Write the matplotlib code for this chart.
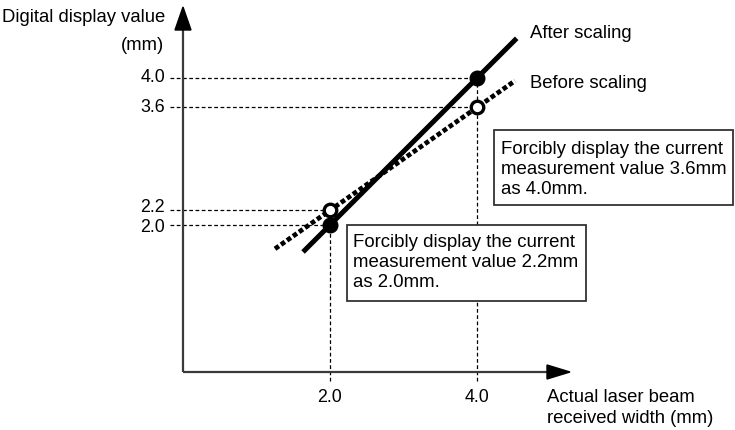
import numpy as np
import matplotlib
matplotlib.use("Agg")
import matplotlib.pyplot as plt
from matplotlib.patches import Polygon, Rectangle
from matplotlib.transforms import offset_copy

plt.rcParams['font.family'] = ['Liberation Sans', 'DejaVu Sans']

# ---- data ----
ref_x = [2.0, 4.0]              # actual received width (mm)
before_y = [2.2, 3.6]           # display value before scaling
after_y = [2.0, 4.0]            # display value after scaling
x_ticks = [2.0, 4.0]
x_tick_labels = ["2.0", "4.0"]
y_ticks = [2.0, 2.2, 3.6, 4.0]
y_tick_labels = ["2.0", "2.2", "3.6", "4.0"]
after_extent = [1.633, 4.54]    # drawn x-range of the "After scaling" line
before_extent = [1.252, 4.517]  # drawn x-range of the "Before scaling" line

# ---- layout (pixel-based geometry) ----
W, H = 735, 430
X0, Y0, S = 183.0, 372.0, 73.5  # origin pixel and pixels per unit
FS = 13.3
FS_BOX = 13.4
FS_TICK = 12.8

fig = plt.figure(figsize=(W / 100, H / 100), dpi=100)
ax = fig.add_axes([0, 0, 1, 1])
ax.set_xlim(-X0 / S, (W - X0) / S)
ax.set_ylim((Y0 - H) / S, Y0 / S)
ax.axis('off')

def px(x):
    return (x - X0) / S

def py(y):
    return (Y0 - y) / S

axis_col = '#3a3a3a'
# axes lines with arrowheads
ax.plot([0, 0], [0, py(30)], color=axis_col, lw=1.6, solid_capstyle='butt', zorder=2)
ax.add_patch(Polygon([[0, py(7)], [-8 / S, py(30)], [8 / S, py(30)]], closed=True,
                     color='black', zorder=3))
ax.plot([0, px(548)], [0, 0], color=axis_col, lw=1.6, solid_capstyle='butt', zorder=2)
ax.add_patch(Polygon([[px(570), 0], [px(547), 7 / S], [px(547), -7 / S]], closed=True,
                     color='black', zorder=3))

# reference dashed lines
dash = dict(color='black', lw=0.9, linestyle=(0, (3, 2)), zorder=1)
for yv, xv in zip(after_y + before_y, ref_x + ref_x):
    ax.plot([px(170), xv], [yv, yv], **dash)
for xv, yv in zip(ref_x, after_y):
    ax.plot([xv, xv], [py(381), yv], **dash)

# lines through the two points of each series
def line_through(xs, ys, ext):
    e = np.array(ext)
    return e, ys[0] + (e - xs[0]) * (ys[1] - ys[0]) / (xs[1] - xs[0])

ax_x, ax_y = line_through(ref_x, after_y, after_extent)
ax.plot(ax_x, ax_y, color='black', lw=3.6, solid_capstyle='butt', zorder=4)
bx_x, bx_y = line_through(ref_x, before_y, before_extent)
ax.plot(bx_x, bx_y, color='black', lw=3.4, linestyle=(0, (1.0, 0.55)),
        dash_capstyle='butt', zorder=4)

ax.plot(ref_x, after_y, 'o', color='black', ms=10.5, zorder=6)
ax.plot(ref_x, before_y, 'o', mfc='white', mec='black', mew=2.4, ms=9, zorder=6)

# tick labels (small vertical nudges keep the close 2.0 / 2.2 labels apart)
nudges = {"2.0": -2.5, "2.2": 3.0, "3.6": 0.0, "4.0": 0.0}
for yv, lab in zip(y_ticks, y_tick_labels):
    tr = offset_copy(ax.transData, fig=fig, x=0, y=nudges[lab], units='dots')
    ax.text(px(165), yv, lab, ha='right', va='center', fontsize=FS_TICK, transform=tr)
for xv, lab in zip(x_ticks, x_tick_labels):
    ax.text(xv, py(397), lab, ha='center', va='center', fontsize=FS_TICK)

# axis titles
ax.text(px(165), py(18), "Digital display value", ha='right', va='center', fontsize=FS)
ax.text(px(164), py(45), "(mm)", ha='right', va='center', fontsize=FS)
ax.text(px(547), py(408), "Actual laser beam\nreceived width (mm)", ha='left',
        va='center', fontsize=FS, linespacing=1.25)

# series labels
ax.text(px(530), py(33), "After scaling", ha='left', va='center', fontsize=FS)
ax.text(px(530), py(83), "Before scaling", ha='left', va='center', fontsize=FS)

# annotation boxes
def box(l, t, r, b):
    ax.add_patch(Rectangle((px(l), py(b)), (r - l) / S, (b - t) / S, fill=True,
                           facecolor='white', edgecolor='#333333', lw=1.3, zorder=5))

box(494, 130, 733, 205)
ax.text(px(501), py(169.5), "Forcibly display the current\nmeasurement value 3.6mm\nas 4.0mm.",
        ha='left', va='center', fontsize=FS_BOX, linespacing=1.25, zorder=7)
box(347, 225, 586, 301)
ax.text(px(353), py(262.5), "Forcibly display the current\nmeasurement value 2.2mm\nas 2.0mm.",
        ha='left', va='center', fontsize=FS_BOX, linespacing=1.25, zorder=7)

fig.savefig("out.png", dpi=100)
